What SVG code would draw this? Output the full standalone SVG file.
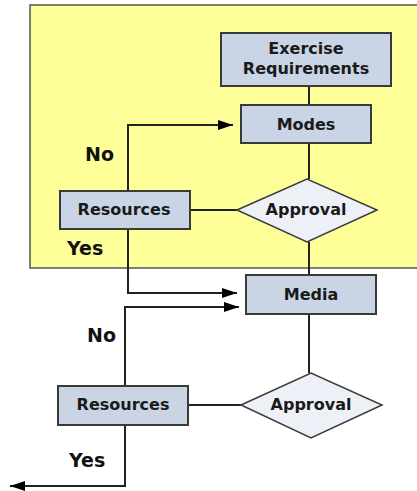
<svg xmlns="http://www.w3.org/2000/svg" width="417" height="491" viewBox="0 0 417 491">
<style>
.box{fill:#C9D5E5;stroke:#3a3a3a;stroke-width:2}
.dia{fill:#EDF0F7;stroke:#3a3a3a;stroke-width:1.5}
.t{font-family:"DejaVu Sans",Verdana,sans-serif;font-weight:bold;font-size:16px;fill:#1a1a1a;text-anchor:middle}
.lbl{font-family:"DejaVu Sans",Verdana,sans-serif;font-weight:bold;font-size:19px;fill:#111}
.ln{fill:none;stroke:#222;stroke-width:2}
</style>
<defs>
<marker id="ah" markerWidth="15" markerHeight="10" refX="15" refY="5" orient="auto" markerUnits="userSpaceOnUse">
<path d="M0,0 L15,5 L0,10 Z" fill="#000"/>
</marker>
</defs>
<rect width="417" height="491" fill="#fff"/>
<rect id="region" x="30" y="5" width="392" height="263" fill="#FFFF99" stroke="#555" stroke-width="1.5"/>
<g id="connectors">
<path class="ln" d="M309,86 V105"/>
<path class="ln" d="M309,143 V179"/>
<path class="ln" d="M190,210 H237"/>
<path class="ln" d="M128,191 V125 H233" marker-end="url(#ah)"/>
<path class="ln" d="M128,229 V293 H237" marker-end="url(#ah)"/>
<path class="ln" d="M309,242 V275"/>
<path class="ln" d="M309,314 V373"/>
<path class="ln" d="M125,386 V307 H239" marker-end="url(#ah)"/>
<path class="ln" d="M188,405 H241"/>
<path class="ln" d="M125,425 V486 H10" marker-end="url(#ah)"/>
</g>
<g id="exreq">
<rect class="box" x="221" y="33" width="170" height="53"/>
<text class="t" x="306" y="54">Exercise</text>
<text class="t" x="306" y="74">Requirements</text>
</g>
<g id="modes">
<rect class="box" x="241" y="105" width="130" height="38"/>
<text class="t" x="306" y="129.5">Modes</text>
</g>
<g id="approval1">
<polygon class="dia" points="237,210 307,179 377,210 307,242"/>
<text class="t" x="306" y="215">Approval</text>
</g>
<g id="resources1">
<rect class="box" x="60" y="191" width="130" height="38"/>
<text class="t" x="124" y="215">Resources</text>
</g>
<g id="media">
<rect class="box" x="246" y="275" width="130" height="39"/>
<text class="t" x="311" y="299.5">Media</text>
</g>
<g id="approval2">
<polygon class="dia" points="241,405 311,373 382,405 311,438"/>
<text class="t" x="311" y="410">Approval</text>
</g>
<g id="resources2">
<rect class="box" x="58" y="386" width="130" height="39"/>
<text class="t" x="123" y="410">Resources</text>
</g>
<g id="labels">
<text class="lbl" x="85" y="161">No</text>
<text class="lbl" x="67" y="255">Yes</text>
<text class="lbl" x="87" y="342">No</text>
<text class="lbl" x="69" y="467">Yes</text>
</g>
</svg>
